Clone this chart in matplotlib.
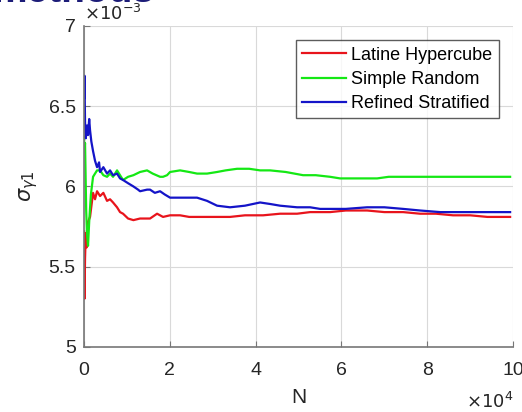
import matplotlib.pyplot as plt

# sample counts N and running estimate of sigma (values in units of 1e-3)
n_lhs = [0, 100, 233, 400, 600, 930, 1400, 2100, 2560, 3030, 3730, 4500, 5360, 6060,
         6760, 7690, 8390, 9090, 10260, 11500, 13050, 15380, 17020, 18410, 20050,
         22380, 24500, 27040, 30070, 34030, 37500, 41720, 45690, 49650, 52680,
         57340, 61000, 65970, 70000, 74360, 78320, 82000, 86010, 90000, 94000, 99300]
sig_lhs = [5.72, 5.30, 5.55, 5.71, 5.62, 5.78, 5.81, 5.96, 5.92, 5.97, 5.94, 5.96,
           5.91, 5.92, 5.90, 5.87, 5.84, 5.83, 5.80, 5.79, 5.80, 5.80, 5.83, 5.81,
           5.82, 5.82, 5.81, 5.81, 5.81, 5.81, 5.82, 5.82, 5.83, 5.83, 5.84,
           5.84, 5.85, 5.85, 5.84, 5.84, 5.83, 5.83, 5.82, 5.82, 5.81, 5.81]

n_srs = [0, 100, 233, 500, 700, 930, 1200, 1600, 2100, 2560, 3030, 3730, 4500,
         5360, 6060, 6760, 7690, 8390, 9090, 10260, 11500, 13050, 14690, 16000,
         17720, 18410, 19350, 20050, 22380, 24500, 26340, 28670, 31000, 33000,
         35660, 38500, 41030, 43360, 47000, 51050, 54000, 57340, 59670, 63000,
         68300, 71000, 74360, 79000, 86010, 92000, 99300]
sig_srs = [6.31, 6.22, 6.27, 5.85, 5.70, 5.63, 5.78, 5.95, 6.06, 6.08, 6.10, 6.10,
           6.07, 6.06, 6.08, 6.06, 6.10, 6.07, 6.04, 6.06, 6.07, 6.09, 6.10, 6.08,
           6.06, 6.06, 6.07, 6.09, 6.10, 6.09, 6.08, 6.08, 6.09, 6.10,
           6.11, 6.11, 6.10, 6.10, 6.09, 6.07, 6.07, 6.06, 6.05, 6.05,
           6.05, 6.06, 6.06, 6.06, 6.06, 6.06, 6.06]

n_rss = [0, 100, 233, 400, 700, 930, 1200, 1400, 1700, 2100, 2560, 3030, 3500,
         3730, 4500, 5360, 6060, 6760, 7690, 8390, 9090, 10260, 11500, 12590,
         13050, 14690, 15380, 16500, 17720, 18800, 20050, 22380, 24500, 26340,
         28670, 31000, 34030, 37500, 41030, 43500, 45690, 49650, 52680, 55010,
         57340, 61000, 65970, 70000, 74360, 78320, 83000, 88000, 94000, 99300]
sig_rss = [6.55, 6.69, 6.40, 6.30, 6.38, 6.32, 6.42, 6.35, 6.28, 6.22, 6.16, 6.12,
           6.15, 6.09, 6.12, 6.08, 6.10, 6.07, 6.08, 6.05, 6.04, 6.02, 6.00, 5.98,
           5.97, 5.98, 5.98, 5.96, 5.97, 5.95, 5.93, 5.93, 5.93, 5.93,
           5.91, 5.88, 5.87, 5.88, 5.90, 5.89, 5.88, 5.87, 5.87, 5.86,
           5.86, 5.86, 5.87, 5.87, 5.86, 5.85, 5.84, 5.84, 5.84, 5.84]

labels = ["Latine Hypercube", "Simple Random", "Refined Stratified"]
colors = ["#e8141c", "#14e814", "#1414c8"]
tick_gray = "#262626"

plt.rcParams['font.family'] = ['Liberation Sans', 'DejaVu Sans']

fig = plt.figure(figsize=(5.22, 4.12), dpi=100)

# slide title cut off at the top of the image (drawn behind the axes texts)
fig.text(-0.015, 0.995, "methods", fontsize=28, fontweight="bold", color="#1c1c78",
         ha="left", va="baseline", zorder=-5)

ax = fig.add_axes([0.161, 0.158, 0.822, 0.779])
ax.patch.set_alpha(0)

series = [(n_lhs, sig_lhs), (n_srs, sig_srs), (n_rss, sig_rss)]
for (n, s), lab, c in zip(series, labels, colors):
    ax.plot([v / 1e4 for v in n], s, color=c, lw=1.6, label=lab)

ax.set_xlim(0, 10)
ax.set_ylim(5, 7)
ax.set_xticks([0, 2, 4, 6, 8, 10])
ax.set_yticks([5, 5.5, 6, 6.5, 7])
ax.set_yticklabels(["5", "5.5", "6", "6.5", "7"])
ax.grid(True, color="#d9d9d9", lw=0.8)
ax.set_axisbelow(True)
for side in ["top", "right"]:
    ax.spines[side].set_visible(False)
for side in ["left", "bottom"]:
    ax.spines[side].set_color("#777777")
    ax.spines[side].set_linewidth(1.2)
ax.tick_params(direction="in", length=4, colors="#777777", labelcolor=tick_gray,
               labelsize=14)
ax.tick_params(axis="y", pad=6)
ax.tick_params(axis="x", pad=11)

ax.set_xlabel("N", fontsize=15, color=tick_gray, labelpad=6)
ax.set_ylabel(r"$\sigma_{\gamma 1}$", fontsize=15, color=tick_gray, labelpad=6)

ax.text(0.0, 1.019, r"$\times10^{-3}$", transform=ax.transAxes, fontsize=13,
        color=tick_gray, ha="left", va="baseline")
ax.text(1.0, -0.19, r"$\times10^{4}$", transform=ax.transAxes, fontsize=13,
        color=tick_gray, ha="right", va="baseline")

leg = ax.legend(loc="upper right", fontsize=13, frameon=True, fancybox=False,
                borderpad=0.35, labelspacing=0.4, handlelength=2.4, handletextpad=0.3,
                borderaxespad=0.8)
leg.get_frame().set_edgecolor("#333333")
leg.get_frame().set_linewidth(1.0)

fig.savefig("out.png", dpi=100)
